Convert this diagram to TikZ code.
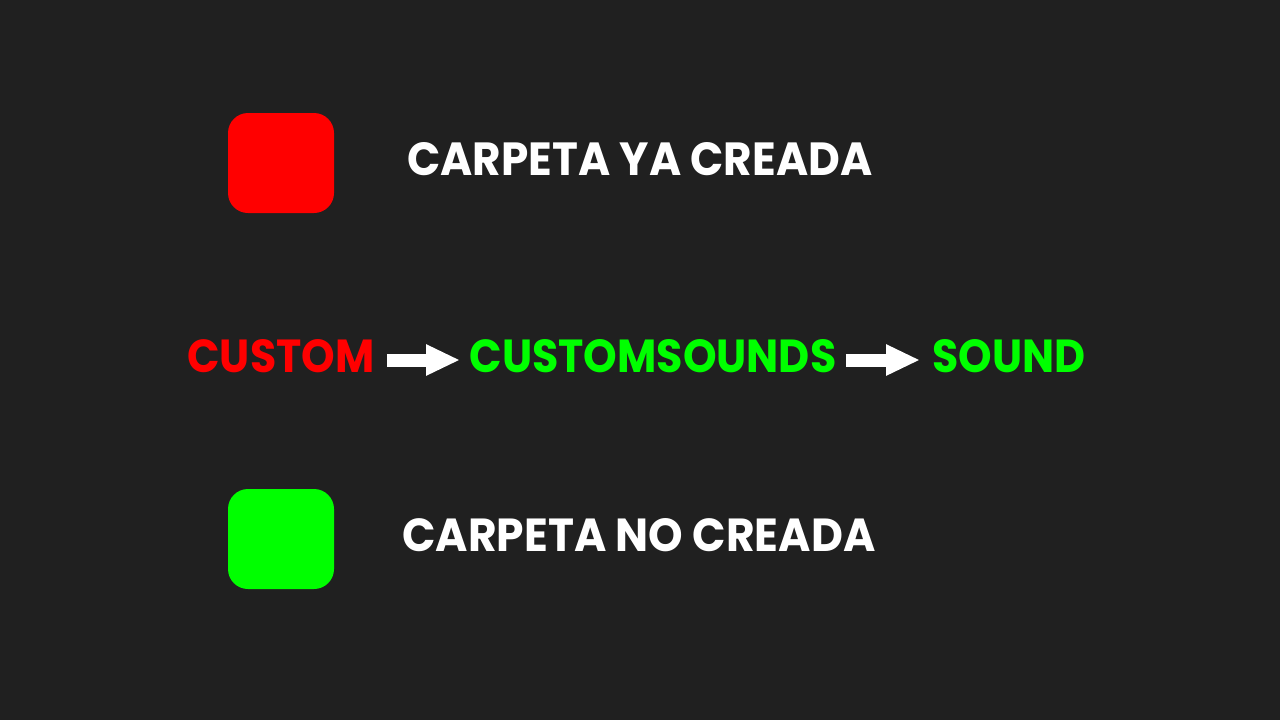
\documentclass[tikz,border=0pt]{standalone}
\usepackage{fontspec}
\setmainfont{Poppins}
\usetikzlibrary{arrows.meta}
\definecolor{bgdark}{HTML}{202020}
\definecolor{folderred}{HTML}{FF0000}
\definecolor{foldergreen}{HTML}{00FF00}
\newcommand{\fitword}[3]{\resizebox{#1}{#2}{\bfseries #3}}
\begin{document}
\begin{tikzpicture}[x=0.5pt,y=-0.5pt,
    legendbox/.style={rounded corners=10pt, minimum width=53pt, minimum height=50pt, inner sep=0pt},
    word/.style={inner sep=0pt, anchor=west},
    flowarrow/.style={white, line width=6.5pt, -{Triangle[length=17pt,width=14.5pt]}}]
  % background
  \fill[bgdark] (0,0) rectangle (1280,720);
  % legend
  \node[legendbox, fill=folderred] (oldbox) at (281,163) {};
  \node[word, white] (oldtext) at (407,159.5) {\fitword{232.5pt}{16.5pt}{CARPETA YA CREADA}};
  \node[legendbox, fill=foldergreen] (newbox) at (281,539) {};
  \node[word, white] (newtext) at (402,535.5) {\fitword{236.5pt}{16.5pt}{CARPETA NO CREADA}};
  % folder path
  \node[word, folderred] (custom) at (187,356.5) {\fitword{93.5pt}{16.5pt}{CUSTOM}};
  \node[word, foldergreen] (csounds) at (469,356.5) {\fitword{183.5pt}{16.5pt}{CUSTOMSOUNDS}};
  \node[word, foldergreen] (sound) at (932,356.5) {\fitword{76.5pt}{16.5pt}{SOUND}};
  \draw[flowarrow, shorten <=6pt, shorten >=4.5pt] ([yshift=-1.75pt]custom.east) -- ([yshift=-1.75pt]csounds.west);
  \draw[flowarrow, shorten <=4.5pt, shorten >=6pt] ([yshift=-1.75pt]csounds.east) -- ([yshift=-1.75pt]sound.west);
\end{tikzpicture}
\end{document}
